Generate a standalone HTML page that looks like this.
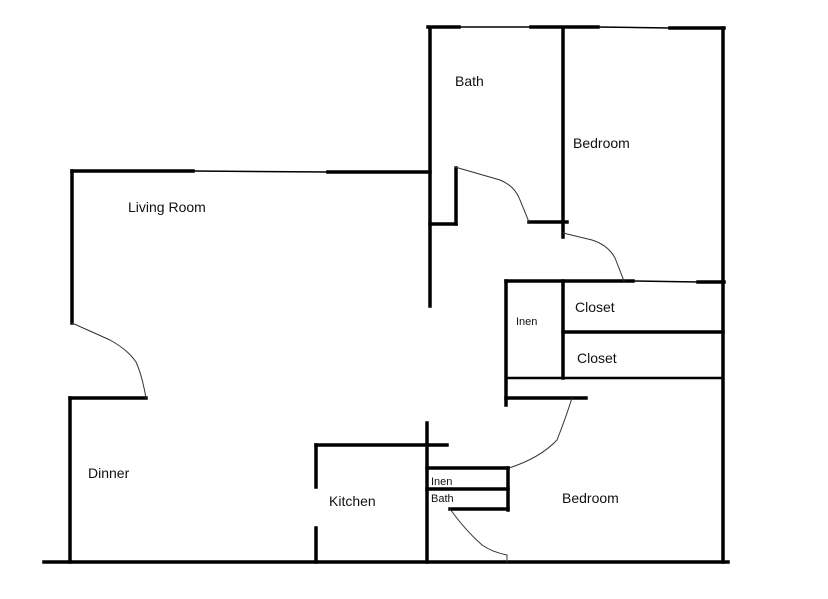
<!DOCTYPE html>
<html><head><style>body{margin:0;background:#fff}svg{display:block}text{font-family:"Liberation Sans",sans-serif;fill:#111}</style></head>
<body>
<svg width="828" height="599" viewBox="0 0 828 599" xmlns="http://www.w3.org/2000/svg">
<g stroke="#000" stroke-linecap="square" fill="none">
<!-- thick walls -->
<g stroke-width="3.5">
<line x1="72" y1="171" x2="193" y2="171"/>
<line x1="328" y1="172" x2="430" y2="172"/>
<line x1="72" y1="171" x2="72" y2="323"/>
<line x1="70" y1="398" x2="146" y2="398"/>
<line x1="70" y1="398" x2="70" y2="562"/>
<line x1="44" y1="562" x2="728" y2="562"/>
<line x1="430" y1="28" x2="430" y2="306"/>
<line x1="430" y1="224" x2="456" y2="224"/>
<line x1="456" y1="168" x2="456" y2="224"/>
<line x1="428" y1="27" x2="459" y2="27"/>
<line x1="531" y1="27" x2="598" y2="27"/>
<line x1="670" y1="28" x2="724" y2="28"/>
<line x1="563" y1="28" x2="563" y2="237"/>
<line x1="529" y1="222" x2="567" y2="222"/>
<line x1="723" y1="28" x2="723" y2="562"/>
<line x1="506" y1="281" x2="633" y2="281"/>
<line x1="698" y1="282" x2="724" y2="282"/>
<line x1="506" y1="281" x2="506" y2="405"/>
<line x1="563" y1="281" x2="563" y2="378"/>
<line x1="563" y1="332" x2="723" y2="332"/>
<line x1="506" y1="398" x2="586" y2="398"/>
<line x1="316" y1="445" x2="447" y2="445"/>
<line x1="316" y1="445" x2="316" y2="487"/>
<line x1="316" y1="528" x2="316" y2="562"/>
<line x1="427" y1="423" x2="427" y2="562"/>
<line x1="427" y1="468" x2="508" y2="468"/>
<line x1="427" y1="489" x2="508" y2="489"/>
<line x1="450" y1="509" x2="508" y2="509"/>
<line x1="508" y1="468" x2="508" y2="510"/>
</g>
<g stroke-width="1.5">
<line x1="193" y1="171" x2="328" y2="172"/>
<line x1="459" y1="27" x2="531" y2="27"/>
<line x1="598" y1="27" x2="670" y2="28"/>
<line x1="633" y1="281" x2="698" y2="282"/>
</g>
<line x1="506" y1="378" x2="723" y2="378" stroke-width="2.5"/>
<!-- door swings -->
<g stroke-width="1" stroke="#333">
<path d="M72 323 L110 340 Q128 350 136 362 Q142 375 146 398"/>
<path d="M455 167 L500 180 Q515 186 520 200 L529 222"/>
<path d="M563 233 L592 240 Q608 245 615 258 L624 281"/>
<path d="M572 398 Q565 420 557 440 Q540 458 509 468"/>
<path d="M450 509 Q465 530 482 545 Q492 552 507 555 L507 562"/>
</g>
</g>
<g font-size="14">
<text x="455" y="86">Bath</text>
<text x="573" y="148">Bedroom</text>
<text x="128" y="212">Living Room</text>
<text x="88" y="478">Dinner</text>
<text x="575" y="312">Closet</text>
<text x="577" y="363">Closet</text>
<text x="329" y="506">Kitchen</text>
<text x="562" y="503">Bedroom</text>
</g>
<g font-size="11">
<text x="516" y="325">Inen</text>
<text x="431" y="485">Inen</text>
<text x="431" y="502">Bath</text>
</g>
</svg>
</body></html>
